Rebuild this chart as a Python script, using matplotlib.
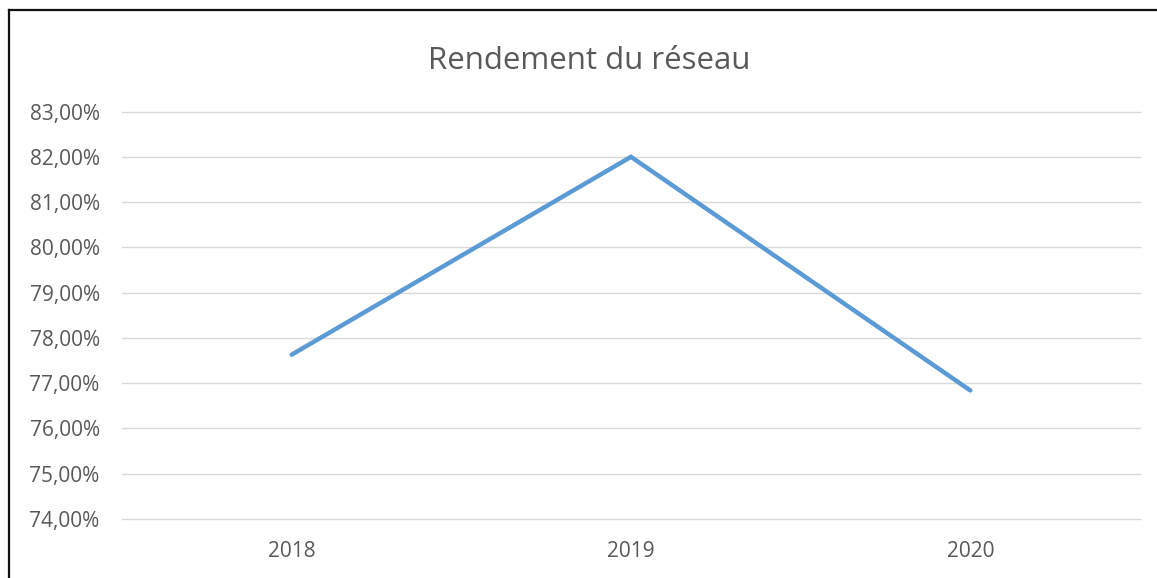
import matplotlib.pyplot as plt
from matplotlib.lines import Line2D
from matplotlib.ticker import FuncFormatter

years = ["2018", "2019", "2020"]
rendement = [77.63, 82.00, 76.84]
y_ticks = [74, 75, 76, 77, 78, 79, 80, 81, 82, 83]

plt.rcParams['font.family'] = ['Open Sans', 'DejaVu Sans']

fig = plt.figure(figsize=(11.57, 5.78), dpi=100)
ax = fig.add_axes([0.1054, 0.102, 0.8799, 0.705])

ax.plot(range(len(years)), rendement, color="#5B9BD5", linewidth=3.2,
        solid_capstyle="round", solid_joinstyle="miter", zorder=3)

ax.set_xlim(-0.5, len(years) - 0.5)
ax.set_ylim(74, 83)
ax.set_xticks(range(len(years)))
ax.set_xticklabels(years)
ax.set_yticks(y_ticks)
ax.yaxis.set_major_formatter(FuncFormatter(lambda v, p: f"{v:.2f}".replace(".", ",") + "%"))
ax.grid(axis="y", color="#D9D9D9", linewidth=1)
for gl in ax.get_ygridlines():
    gl.set_clip_on(False)
ax.set_axisbelow(True)
for s in ax.spines.values():
    s.set_visible(False)
ax.tick_params(length=0, labelsize=15, colors="#595959")
ax.tick_params(axis="y", pad=16)
ax.tick_params(axis="x", pad=16)

fig.suptitle("Rendement du réseau", x=0.509, y=0.92, fontsize=22.5, color="#595959")

# frame visible at the top and left of the original screenshot
fig.add_artist(Line2D([0.0082, 1.0], [0.982, 0.982], color="#111111", linewidth=1.6))
fig.add_artist(Line2D([0.0082, 0.0082], [0.0, 0.982], color="#111111", linewidth=1.6))

fig.savefig("out.png", dpi=100)
